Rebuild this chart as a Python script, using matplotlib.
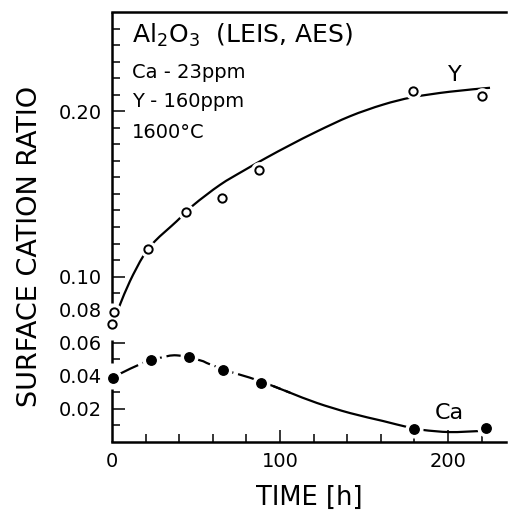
import matplotlib
matplotlib.use("Agg")
import matplotlib.pyplot as plt
from matplotlib.path import Path
from matplotlib.patches import PathPatch

# ---- data ----
y_time = [0, 1.2, 21.6, 44, 65.3, 87.5, 179, 220]
y_ratio = [0.0713, 0.0787, 0.117, 0.139, 0.1476, 0.1644, 0.212, 0.209]

ca_time = [0.8, 23, 45.8, 65.9, 88.5, 180, 222.5]
ca_ratio = [0.0385, 0.0495, 0.0514, 0.0437, 0.0358, 0.0079, 0.0085]

# hand-drawn guide curves
y_fit_t = [3.6, 4.8, 10.7, 18.6, 25.6, 38.5, 48.4, 64.3, 78.2, 92.1, 105.9,
           122, 141.7, 161.3, 179, 201, 225]
y_fit_v = [0.080, 0.0832, 0.0973, 0.1124, 0.1215, 0.1335, 0.1432, 0.1555,
           0.1640, 0.1720, 0.1795, 0.1878, 0.1970, 0.2040, 0.2085, 0.2118, 0.2142]

ca_fit_dash_t = [4.8, 18.6, 28.6, 38.5, 52.4, 58.3, 72.2, 82.1, 96, 106]
ca_fit_dash_v = [0.0413, 0.0479, 0.0509, 0.0524, 0.0494, 0.0470, 0.0419,
                 0.0389, 0.0338, 0.0298]
ca_fit_solid_t = [96, 106, 122, 141.7, 161.3, 175.6, 185, 201, 218]
ca_fit_solid_v = [0.0338, 0.0298, 0.0236, 0.0175, 0.0127, 0.0091, 0.0073,
                  0.0060, 0.0066]

ytick_major = [0.02, 0.04, 0.06, 0.08, 0.10, 0.20]
ytick_labels = ["0.02", "0.04", "0.06", "0.08", "0.10", "0.20"]
ytick_minor = [0.01, 0.03, 0.05, 0.09, 0.11, 0.12, 0.13, 0.14, 0.15, 0.16,
               0.17, 0.18, 0.19, 0.21, 0.22, 0.23, 0.24, 0.25]
xtick_major = [0, 100, 200]
xtick_minor = [20, 40, 60, 80, 120, 140, 160, 180, 220]

# visible pieces of the broken left axis
spine_pieces = [(0.0, 0.032), (0.048, 0.0616), (0.084, 0.26)]


def smooth_path(xs, ys):
    """Render a list of read points as a smooth Bezier path (Catmull-Rom)."""
    pts = list(zip(xs, ys))
    verts = [pts[0]]
    codes = [Path.MOVETO]
    n = len(pts)
    for i in range(n - 1):
        p0 = pts[i - 1] if i > 0 else pts[i]
        p1 = pts[i]
        p2 = pts[i + 1]
        p3 = pts[i + 2] if i + 2 < n else pts[i + 1]
        c1 = (p1[0] + (p2[0] - p0[0]) / 6, p1[1] + (p2[1] - p0[1]) / 6)
        c2 = (p2[0] - (p3[0] - p1[0]) / 6, p2[1] - (p3[1] - p1[1]) / 6)
        verts += [c1, c2, p2]
        codes += [Path.CURVE4] * 3
    return Path(verts, codes)


plt.rcParams['font.family'] = ['DejaVu Sans']
fig = plt.figure(figsize=(5.08, 5.12), dpi=100)
ax = fig.add_axes([0.2205, 0.1367, 0.7755, 0.8398])
ax.set_xlim(0, 234.5)
ax.set_ylim(0, 0.26)

lw = 1.6
ax.add_patch(PathPatch(smooth_path(y_fit_t, y_fit_v), fill=False,
                       edgecolor='black', lw=lw, zorder=2))
ax.add_patch(PathPatch(smooth_path(ca_fit_dash_t, ca_fit_dash_v), fill=False,
                       edgecolor='black', lw=lw, zorder=2,
                       linestyle=(0, (9, 2.2))))
ax.add_patch(PathPatch(smooth_path(ca_fit_solid_t, ca_fit_solid_v), fill=False,
                       edgecolor='black', lw=lw, zorder=2))

# white halos to break lines at markers
ax.plot(y_time, y_ratio, 'o', ms=11, color='white', mec='white', zorder=3,
        clip_on=False)
ax.plot(ca_time, ca_ratio, 'o', ms=12, color='white', mec='white', zorder=3,
        clip_on=False)
# markers
ax.plot(y_time, y_ratio, 'o', ms=6, mfc='white', mec='black', mew=1.4,
        zorder=4, clip_on=False)
ax.plot(ca_time, ca_ratio, 'o', ms=6.8, color='black', zorder=4, clip_on=False)

# spines
ax.spines['right'].set_visible(False)
ax.spines['left'].set_visible(False)
ax.spines['top'].set_linewidth(1.8)
ax.spines['bottom'].set_linewidth(1.8)
for y0, y1 in spine_pieces:
    ax.plot([0, 0], [y0, y1], color='black', lw=1.8,
            transform=ax.get_yaxis_transform(), clip_on=False, zorder=5,
            solid_capstyle='butt')

ax.set_yticks(ytick_major)
ax.set_yticklabels(ytick_labels)
ax.set_yticks(ytick_minor, minor=True)
ax.set_xticks(xtick_major)
ax.set_xticks(xtick_minor, minor=True)
ax.tick_params(which='both', direction='in', top=False, right=False,
               labelsize=14, width=1.1, color='black')
ax.tick_params(which='major', length=9, pad=7)
ax.tick_params(which='minor', length=5.5)
for t, v in zip(ax.yaxis.get_major_ticks(), ytick_major):
    if v in (0.04, 0.08):
        t.tick1line.set_visible(False)
ax.xaxis.get_major_ticks()[0].tick1line.set_visible(False)

ax.set_xlabel("TIME [h]", fontsize=18.5, labelpad=10)
ax.set_ylabel("SURFACE CATION RATIO", fontsize=19.5, labelpad=12)
ax.yaxis.set_label_coords(-0.175, 0.455)

# annotations
ax.text(11.9, 0.2411, r"Al$_2$O$_3$  (LEIS, AES)", fontsize=18, va='baseline')
ax.text(11.9, 0.2199, "Ca - 23ppm", fontsize=14, va='baseline')
ax.text(11.9, 0.2024, "Y - 160ppm", fontsize=14, va='baseline')
ax.text(11.9, 0.1837, "1600°C", fontsize=14, va='baseline')
ax.text(204, 0.218, "Y", fontsize=16, va='baseline', ha='center')
ax.text(201, 0.0139, "Ca", fontsize=16, va='baseline', ha='center')

fig.savefig("out.png", dpi=100)
